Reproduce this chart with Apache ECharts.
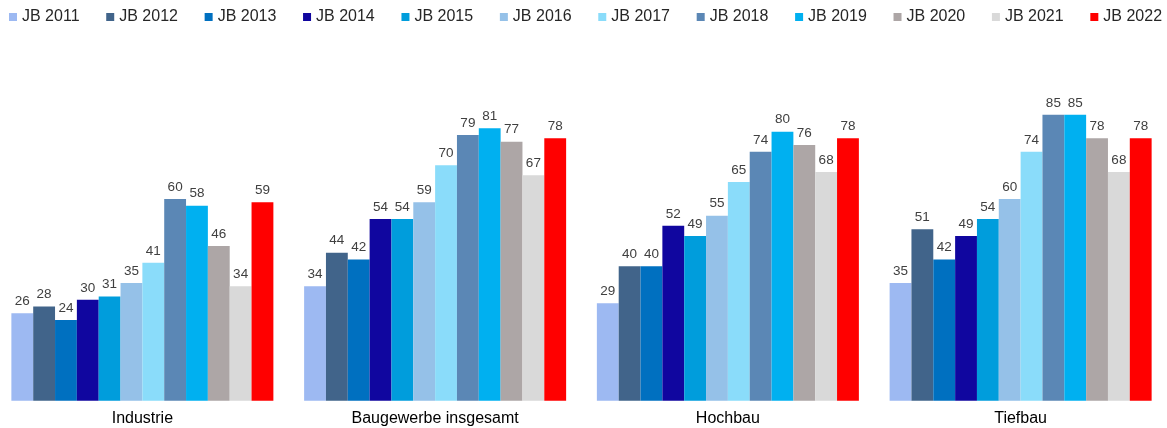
<!DOCTYPE html>
<html><head><meta charset="utf-8">
<script src="https://cdn.jsdelivr.net/npm/echarts@6/dist/echarts.min.js"></script>
<style>html,body{margin:0;padding:0;background:#fff;overflow:hidden;width:1167px;height:428px;position:relative}#c{position:absolute;left:-4px;top:0;width:1200px;height:428px}</style>
</head><body><div id="c"></div>
<script>
const categories = ["Industrie", "Baugewerbe insgesamt", "Hochbau", "Tiefbau"];
const seriesNames = ["JB 2011","JB 2012","JB 2013","JB 2014","JB 2015","JB 2016","JB 2017","JB 2018","JB 2019","JB 2020","JB 2021","JB 2022"];
const jb2011 = [26, 34, 29, 35];
const jb2012 = [28, 44, 40, 51];
const jb2013 = [24, 42, 40, 42];
const jb2014 = [30, 54, 52, 49];
const jb2015 = [31, 54, 49, 54];
const jb2016 = [35, 59, 55, 60];
const jb2017 = [41, 70, 65, 74];
const jb2018 = [60, 79, 74, 85];
const jb2019 = [58, 81, 80, 85];
const jb2020 = [46, 77, 76, 78];
const jb2021 = [34, 67, 68, 68];
const jb2022 = [59, 78, 78, 78];
const colors = ["#9DB9F2","#41648A","#0070C0","#10069F","#009DDC","#95C1E8","#8ADCFA","#5B87B5","#00B0F0","#ADA6A6","#D9D9D9","#FF0000"];
const values = [jb2011,jb2012,jb2013,jb2014,jb2015,jb2016,jb2017,jb2018,jb2019,jb2020,jb2021,jb2022];

const chart = echarts.init(document.getElementById('c'));
chart.setOption({
  animation: false,
  color: colors,
  legend: {
    left: 13, top: 9, padding: 0, itemWidth: 8, itemHeight: 8, itemGap: 26.7,
    icon: 'rect',
    textStyle: { fontFamily: 'Liberation Sans, Arial, sans-serif', fontSize: 16, color: '#262626' },
    data: seriesNames
  },
  grid: { left: 0, right: 29, top: 98, bottom: 27.3, containLabel: false },
  xAxis: {
    type: 'category', data: categories,
    axisLine: { show: false }, axisTick: { show: false },
    axisLabel: { margin: 10, fontFamily: 'Liberation Sans, Arial, sans-serif', fontSize: 16, color: '#000' }
  },
  yAxis: { type: 'value', min: 0, max: 90, show: false, splitLine: { show: false } },
  series: seriesNames.map((n, i) => ({
    name: n, type: 'bar', data: values[i],
    barGap: '0%', barCategoryGap: '10.5%',
    itemStyle: { color: colors[i] },
    label: { show: true, position: 'top', distance: 5, fontFamily: 'Liberation Sans, Arial, sans-serif', fontSize: 13.5, color: '#404040' }
  }))
});
</script></body></html>
